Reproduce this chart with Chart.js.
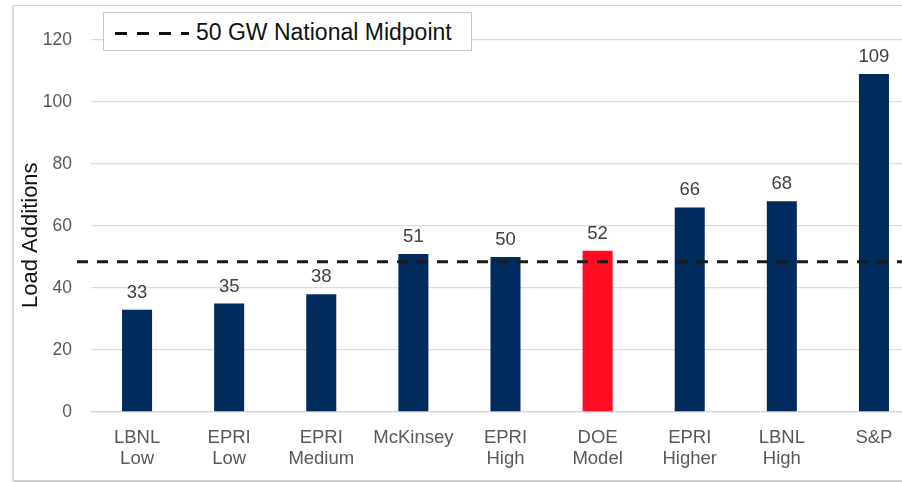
<!DOCTYPE html>
<html lang="en">
<head>
    <meta charset="UTF-8">
    <title>Load Additions</title>
    <script src="https://cdn.jsdelivr.net/npm/chart.js"></script>
    <style>
        html, body { margin: 0; padding: 0; background: #fff; overflow: hidden; width: 902px; height: 482px; }
        .moldura {
            position: absolute; left: 13px; top: 5px; width: 1000px; height: 474px;
            border: 1px solid #d6d6d6; background: #fff;
            box-shadow: 0 2px 3px rgba(0, 0, 0, 0.28);
        }
        #grafico { position: absolute; left: 0; top: 0; }
        .legenda {
            position: absolute; left: 103px; top: 12px; width: 369px; height: 39px;
            box-sizing: border-box; border: 1px solid #c8c8c8; background: #fff;
            font-family: "Liberation Sans", Arial, sans-serif; font-size: 23px; color: #111;
        }
        .legenda .traco {
            position: absolute; left: 11px; top: 19px; width: 74px; height: 3px;
            background: repeating-linear-gradient(to right, #111 0 12px, transparent 12px 22px);
        }
        .legenda .texto { position: absolute; left: 92px; top: 6px; line-height: 26px; white-space: nowrap; }
    </style>
</head>
<body>
<div class="moldura"></div>
<canvas id="grafico" width="920" height="482"></canvas>
<div class="legenda"><div class="traco"></div><span class="texto">50 GW National Midpoint</span></div>
<script>
    // Dados
    const categorias = [
        ['LBNL', 'Low'], ['EPRI', 'Low'], ['EPRI', 'Medium'], 'McKinsey', ['EPRI', 'High'],
        ['DOE', 'Model'], ['EPRI', 'Higher'], ['LBNL', 'High'], 'S&P'
    ];
    const valores = [33, 35, 38, 51, 50, 52, 66, 68, 109];
    const destaque = [false, false, false, false, false, true, false, false, false];
    const pontoMedio = 48.5;
    const ticksY = [0, 20, 40, 60, 80, 100, 120];

    const azul = '#002B5C';
    const vermelho = '#FF0B22';
    const fonte = '"Liberation Sans", Arial, sans-serif';

    // Linha tracejada horizontal (ponto médio nacional)
    const linhaMedia = {
        id: 'linhaMedia',
        afterDatasetsDraw(chart) {
            const ctx = chart.ctx;
            const y = chart.scales.y.getPixelForValue(pontoMedio);
            ctx.save();
            ctx.strokeStyle = '#1a1a1a';
            ctx.lineWidth = 3;
            ctx.setLineDash([11, 9]);
            ctx.beginPath();
            ctx.moveTo(77, y);
            ctx.lineTo(chart.width, y);
            ctx.stroke();
            ctx.restore();
        }
    };

    // Rótulos de valor acima das barras
    const rotulosValor = {
        id: 'rotulosValor',
        afterDatasetsDraw(chart) {
            const ctx = chart.ctx;
            const meta = chart.getDatasetMeta(0);
            ctx.save();
            ctx.font = '18.5px ' + fonte;
            ctx.fillStyle = '#404040';
            ctx.textAlign = 'center';
            ctx.textBaseline = 'alphabetic';
            meta.data.forEach((barra, i) => {
                ctx.fillText(String(valores[i]), barra.x, barra.y - 12);
            });
            ctx.restore();
        }
    };

    new Chart(document.getElementById('grafico').getContext('2d'), {
        type: 'bar',
        data: {
            labels: categorias,
            datasets: [{
                data: valores,
                backgroundColor: destaque.map(d => d ? vermelho : azul),
                borderWidth: 0,
                categoryPercentage: 1,
                barPercentage: 0.326
            }]
        },
        options: {
            responsive: false,
            animation: false,
            layout: { padding: { top: 40, right: 0, bottom: 0, left: 0 } },
            plugins: { legend: { display: false }, tooltip: { enabled: false } },
            scales: {
                x: {
                    grid: { display: false, drawTicks: false },
                    border: { display: true, color: '#d6d6d6', width: 1.3 },
                    ticks: {
                        font: { family: fonte, size: 18.5, lineHeight: 1.14 },
                        color: '#595959',
                        padding: 15,
                        maxRotation: 0,
                        autoSkip: false
                    },
                    afterFit(scale) { scale.height = 70; }
                },
                y: {
                    min: 0,
                    max: 120,
                    afterBuildTicks(scale) { scale.ticks = ticksY.map(v => ({ value: v })); },
                    grid: { color: '#dcdcdc', lineWidth: 1.3, drawTicks: false },
                    border: { display: false },
                    ticks: {
                        font: { family: fonte, size: 17.5 },
                        color: '#595959',
                        padding: 19
                    },
                    title: {
                        display: true,
                        // espaços no fim deslocam o título um pouco para baixo, como no original
                        text: 'Load Additions\u00a0\u00a0\u00a0',
                        color: '#111',
                        font: { family: fonte, size: 22, lineHeight: 1.2 },
                        padding: { top: 18, bottom: 0 }
                    },
                    afterFit(scale) { scale.width = 91; }
                }
            }
        },
        plugins: [linhaMedia, rotulosValor]
    });
</script>
</body>
</html>
